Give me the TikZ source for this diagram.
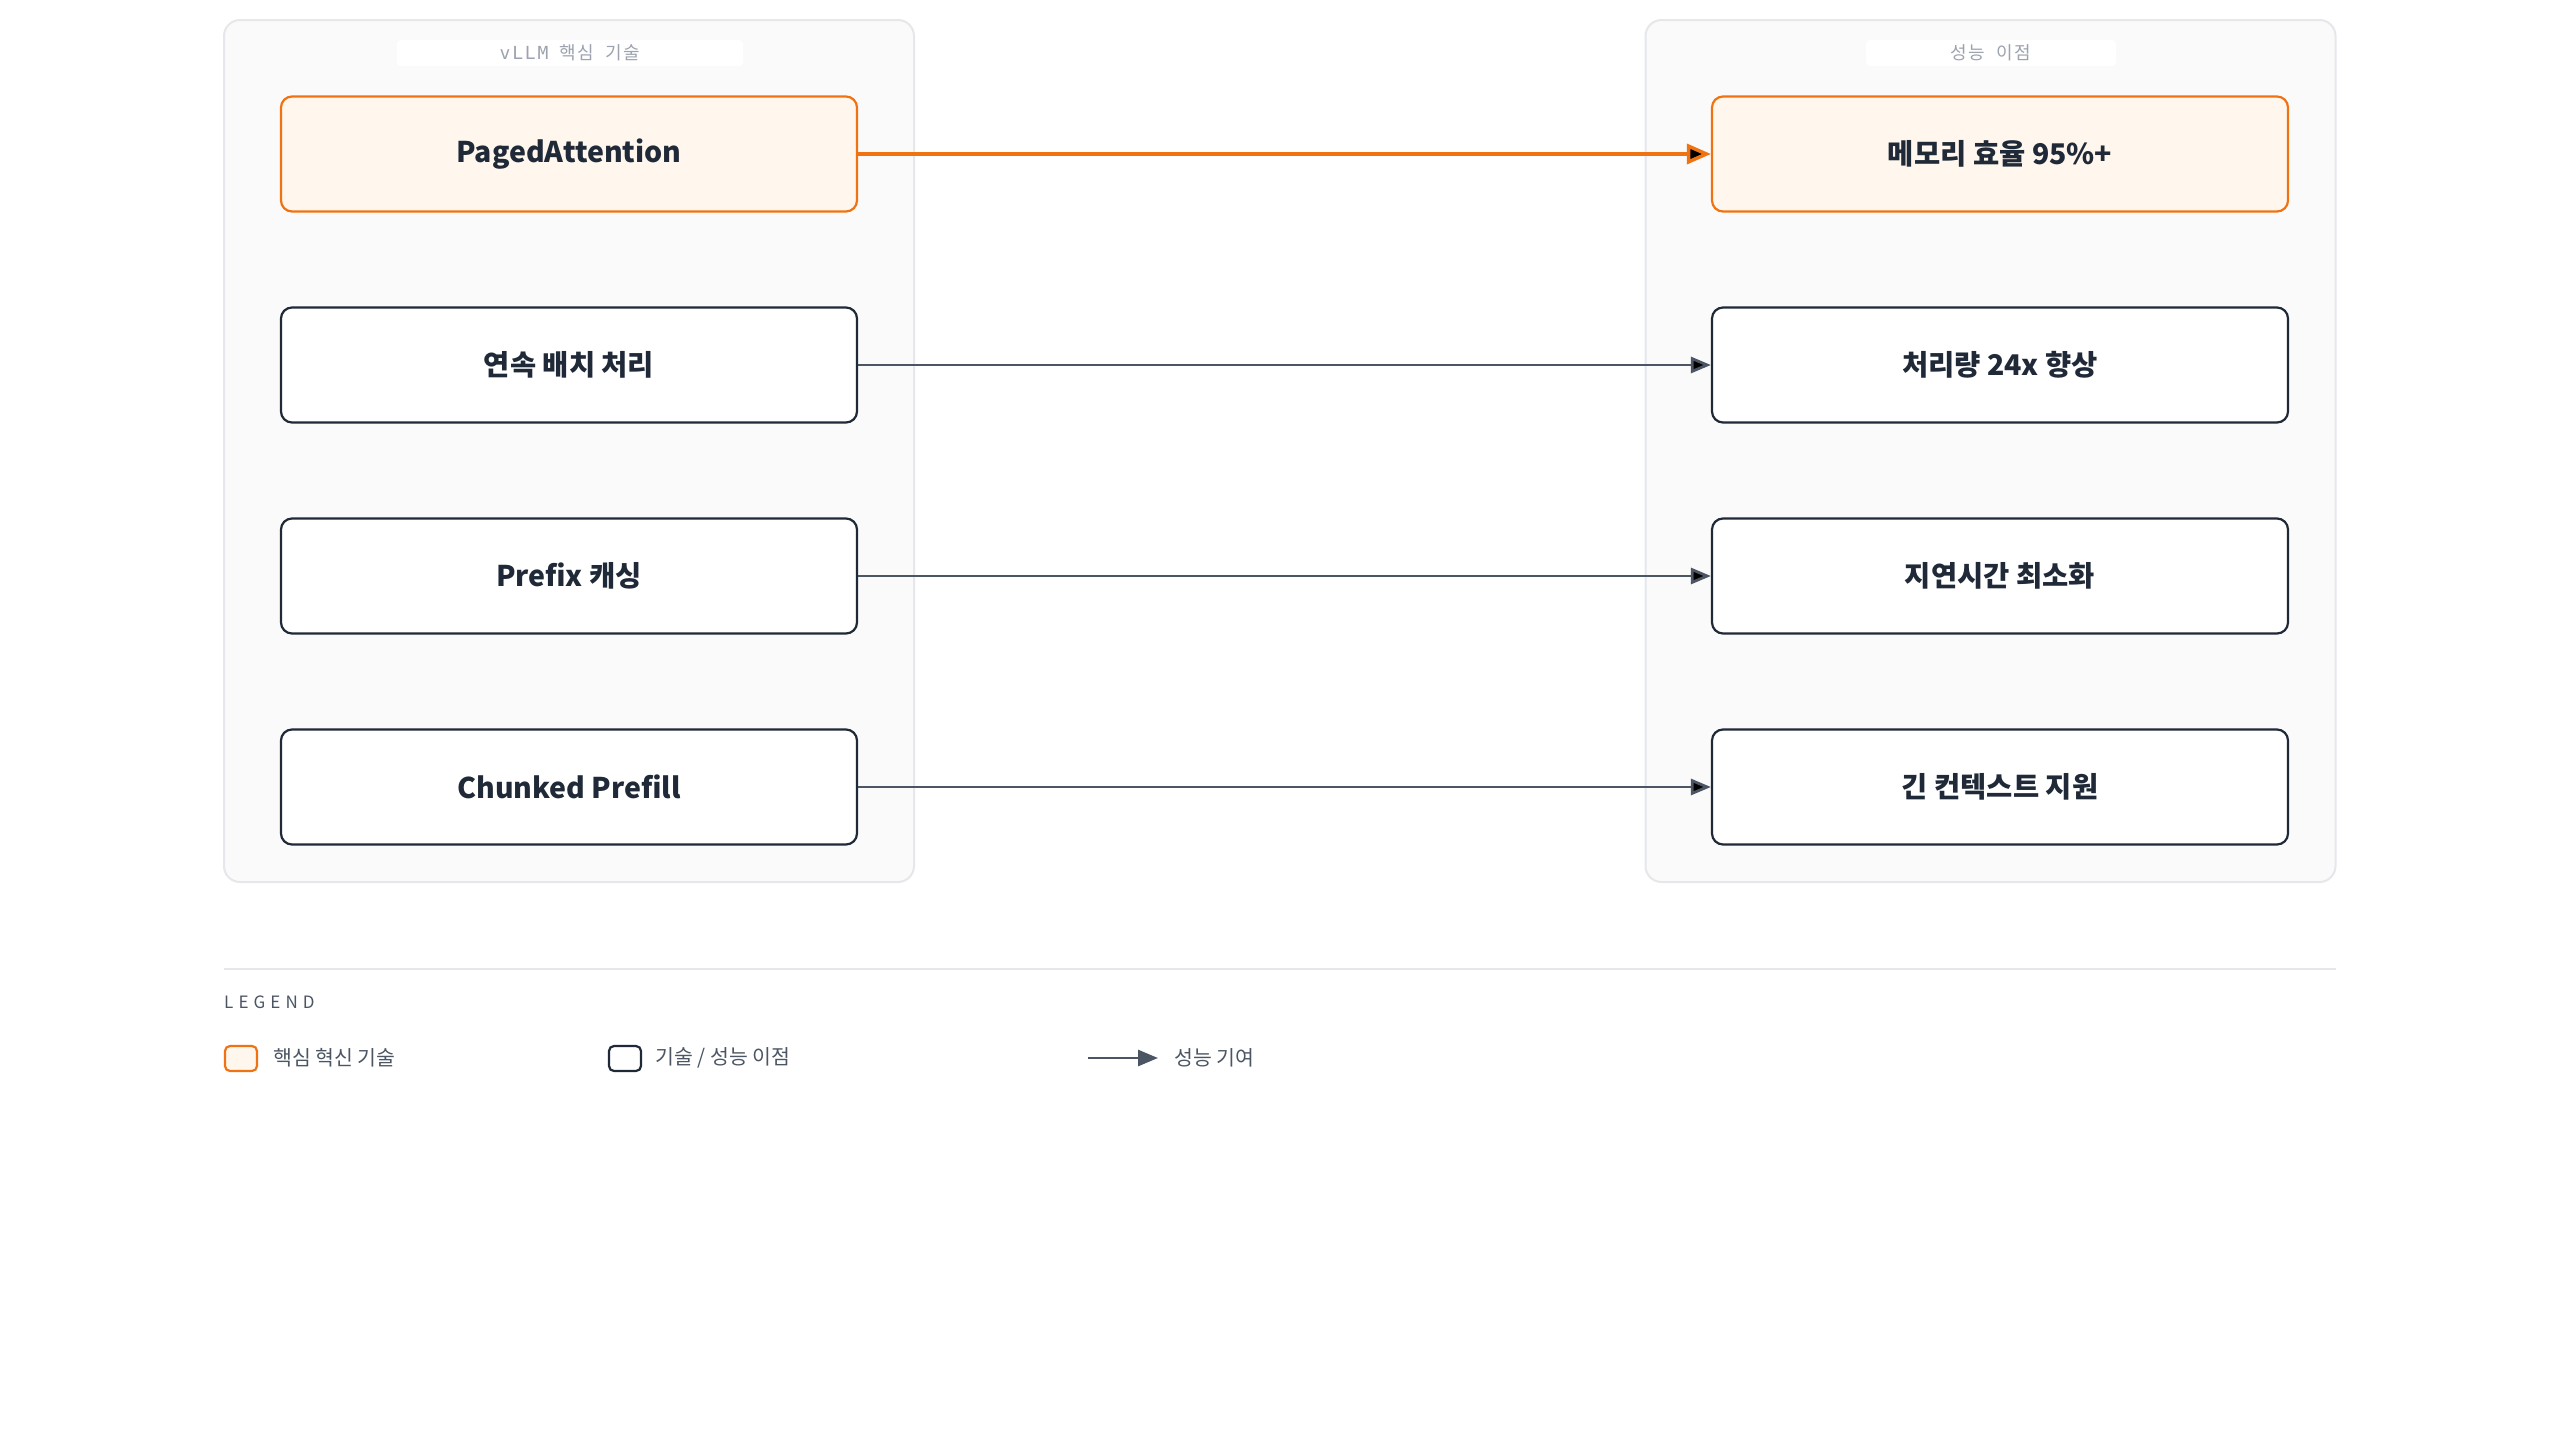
\documentclass[tikz,border=0pt]{standalone}
\usepackage{fontspec}
\setmainfont{Noto Sans CJK KR}
\newfontfamily\titlefont{Noto Sans CJK KR}[LetterSpace=10]
\newfontfamily\titlemono{DejaVu Sans Mono}[LetterSpace=10]
\newfontfamily\legendfont{Noto Sans CJK KR}[LetterSpace=30]
\usepackage{tikz}
\usetikzlibrary{arrows.meta}

\definecolor{corecol}{HTML}{F07313}
\definecolor{corefill}{HTML}{FFF7ED}
\definecolor{darkcol}{HTML}{1F2937}
\definecolor{arrowcol}{HTML}{4B5563}
\definecolor{panelfill}{HTML}{FAFAFA}
\definecolor{panelline}{HTML}{E5E7EB}
\definecolor{titlecol}{HTML}{9CA3AF}

\begin{document}
\begin{tikzpicture}[x=1pt,y=-1pt]
\tikzstyle{panel}=[draw=panelline, fill=panelfill, line width=2pt, rounded corners=16pt, inner sep=0pt, minimum width=690pt, minimum height=862pt]
\tikzstyle{titlebox}=[fill=white, rounded corners=4pt, inner sep=0pt, minimum height=26pt, text=titlecol, font=\titlefont\fontsize{18pt}{21pt}\selectfont]
\tikzstyle{plain}=[draw=darkcol, fill=white, line width=2.2pt, rounded corners=11pt, inner sep=0pt, minimum width=576pt, minimum height=115pt, text=darkcol, font=\fontsize{28.5pt}{33pt}\selectfont\bfseries]
\tikzstyle{core}=[plain, draw=corecol, fill=corefill]
\tikzstyle{corearrow}=[draw=corecol, line width=3.5pt, -{Triangle[length=24pt,width=20pt]}]
\tikzstyle{gainarrow}=[draw=arrowcol, line width=2.8pt, -{Triangle[length=20pt,width=16pt]}]
\tikzstyle{legendkey}=[line width=2.2pt, rounded corners=5pt, inner sep=0pt, minimum width=32pt, minimum height=25pt]
\tikzstyle{legendtext}=[anchor=west, inner sep=0pt, text=arrowcol, font=\fontsize{20.5pt}{24pt}\selectfont]

\useasboundingbox (0,0) rectangle (2560,1440);

% panels
\node[panel] (techpanel) at (569,451) {};
\node[panel] (gainpanel) at (1990.5,451) {};
\node[titlebox, minimum width=346pt] (techtitle) at (570,53) {{\titlemono vLLM}\hspace{11pt}핵심\hspace{11pt}기술};
\node[titlebox, minimum width=250pt] (gaintitle) at (1991,53) {성능\hspace{11pt}이점};

% technologies
\node[core] (paged) at (569,154) {PagedAttention};
\node[plain] (batch) at (569,365) {연속 배치 처리};
\node[plain] (prefix) at (569,576) {Prefix 캐싱};
\node[plain] (chunk) at (569,787) {Chunked Prefill};

% gains
\node[core] (memory) at (2000,154) {메모리 효율 95\%+};
\node[plain] (thru) at (2000,365) {처리량 24x 향상};
\node[plain] (latency) at (2000,576) {지연시간 최소화};
\node[plain] (context) at (2000,787) {긴 컨텍스트 지원};

\path[corearrow] (paged) edge (memory);
\path[gainarrow]
(batch) edge (thru)
(prefix) edge (latency)
(chunk) edge (context);

% legend
\coordinate (sepL) at (224,969);
\coordinate (sepR) at (2336,969);
\draw[panelline, line width=2pt] (sepL) -- (sepR);
\node[anchor=west, inner sep=0pt, text=arrowcol, font=\legendfont\fontsize{17pt}{20pt}\selectfont] (legendhead) at (224,1002) {LEGEND};

\node[legendkey, draw=corecol, fill=corefill] (corekey) at (241,1058.5) {};
\node[legendtext] (coretext) at (273,1058) {핵심 혁신 기술};
\node[legendkey, draw=darkcol, fill=white] (plainkey) at (625,1058.5) {};
\node[legendtext] (plaintext) at (655,1058) {기술 / 성능 이점};
\coordinate (keyfrom) at (1088,1058);
\coordinate (keyto) at (1158,1058);
\draw[gainarrow] (keyfrom) -- (keyto);
\node[legendtext] (gaintext) at (1174,1058) {성능 기여};

\end{tikzpicture}
\end{document}
